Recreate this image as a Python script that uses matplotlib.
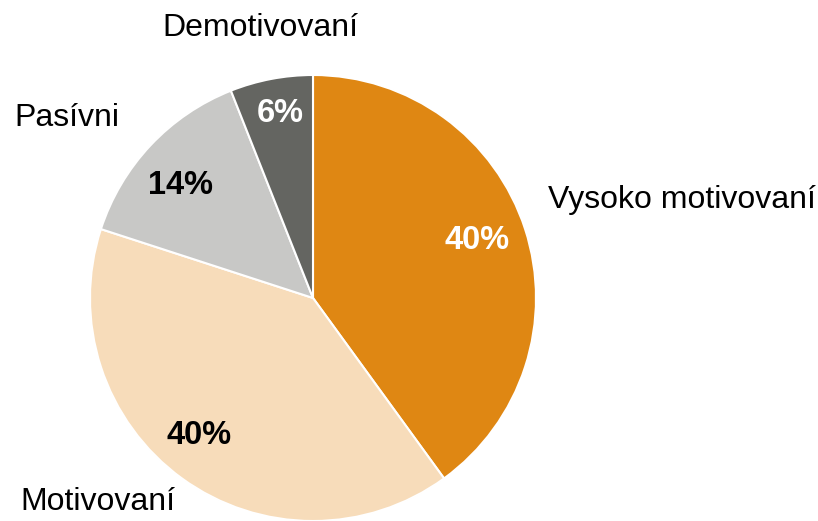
import matplotlib.pyplot as plt

# Datos
categorias = ['Vysoko motivovaní', 'Motivovaní', 'Pasívni', 'Demotivovaní']
valores = [40, 40, 14, 6]
colores = ['#DF8713', '#F7DCBA', '#C8C8C6', '#646561']
colores_pct = ['white', 'black', 'black', 'white']

plt.rcParams['font.family'] = ['Liberation Sans', 'DejaVu Sans']

W, H = 818, 521
cx, cy, r = 313, 298, 223  # centro y radio en píxeles

fig = plt.figure(figsize=(W / 100, H / 100), dpi=100)
ax = fig.add_axes([0, 0, 1, 1])

wedges, _ = ax.pie(valores, colors=colores, startangle=90, counterclock=False,
                   wedgeprops=dict(edgecolor='white', linewidth=1.5))

ax.set_xlim(-cx / r, (W - cx) / r)
ax.set_ylim(-(H - cy) / r, cy / r)


def px(x, y):
    return (x - cx) / r, (cy - y) / r


# Etiquetas de categoría
pos_etiquetas = [(548, 200, 'left'), (20, 502, 'left'), (14, 118, 'left'), (260, 28, 'center')]
for cat, (x, y, ha) in zip(categorias, pos_etiquetas):
    ax.text(*px(x, y), cat, ha=ha, va='center', fontsize=23)

# Porcentajes
pos_pct = [(477, 240), (199, 435), (181, 185), (280, 113)]
for v, c, (x, y) in zip(valores, colores_pct, pos_pct):
    ax.text(*px(x, y), f'{v}%', ha='center', va='center', fontsize=23.5,
            fontweight='bold', color=c)

fig.savefig('out.png', dpi=100)
plt.close(fig)
